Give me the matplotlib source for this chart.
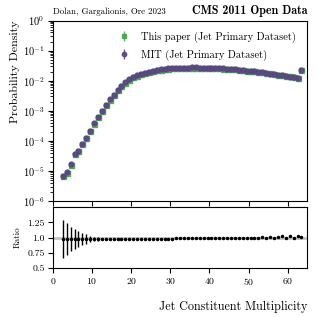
import numpy as np
import matplotlib
matplotlib.use('Agg')
from matplotlib import pyplot as plt
from matplotlib.ticker import LogLocator, NullFormatter, FixedLocator, FixedFormatter

plt.rcParams['font.family'] = 'cmr10'
plt.rcParams['mathtext.fontset'] = 'cm'
plt.rcParams['axes.formatter.use_mathtext'] = True
plt.rcParams['axes.unicode_minus'] = False

# bin centres of the jet constituent multiplicity (last bin = overflow)
mult = np.arange(2.5, 64.0, 1.0)

# MIT (Jet Primary Dataset) probability density
mit = [6.76e-6, 8.91e-6, 1.66e-5, 3.72e-5, 4.57e-5, 7.94e-5, 1.23e-4, 2.14e-4,
       3.80e-4, 6.17e-4, 1.02e-3, 1.58e-3, 2.40e-3, 3.47e-3, 4.90e-3, 6.76e-3,
       8.71e-3, 1.10e-2, 1.32e-2, 1.51e-2, 1.70e-2, 1.86e-2, 2.00e-2, 2.14e-2,
       2.26e-2, 2.37e-2, 2.47e-2, 2.55e-2, 2.61e-2, 2.66e-2, 2.70e-2, 2.72e-2,
       2.74e-2, 2.75e-2, 2.75e-2, 2.74e-2, 2.72e-2, 2.69e-2, 2.66e-2, 2.62e-2,
       2.58e-2, 2.54e-2, 2.48e-2, 2.43e-2, 2.37e-2, 2.30e-2, 2.23e-2, 2.16e-2,
       2.09e-2, 2.02e-2, 1.95e-2, 1.87e-2, 1.79e-2, 1.72e-2, 1.64e-2, 1.57e-2,
       1.49e-2, 1.42e-2, 1.35e-2, 1.29e-2, 1.22e-2, 2.26e-2]

# ratio this paper / MIT and its uncertainty
ratio = [0.975, 0.975, 0.975, 0.975, 0.975, 0.975, 0.975, 0.975, 0.975, 0.975,
         0.975, 0.975, 0.975, 0.975, 0.975, 0.975, 0.975, 0.975, 0.978, 0.978,
         0.98, 0.98, 0.98, 0.98, 0.98, 0.98, 0.98, 0.982, 0.982, 0.984,
         0.984, 0.985, 0.986, 0.987, 0.988, 0.989, 0.99, 0.99, 0.991, 0.992,
         0.993, 0.994, 0.995, 0.996, 0.997, 0.998, 0.999, 1.0, 1.0, 1.0,
         1.0, 1.005, 1.0, 1.01, 1.0, 1.005, 1.02, 1.0, 1.02, 1.0, 1.02, 1.005]
ratio_err = [0.31, 0.27, 0.20, 0.16, 0.13, 0.10, 0.075, 0.055, 0.04, 0.03,
             0.022, 0.017, 0.013, 0.01, 0.008, 0.006] + [0.004] * 46

# relative uncertainty on the densities
rel_err = [0.15, 0.13, 0.1, 0.08, 0.07, 0.05, 0.04, 0.03, 0.02, 0.015] + [0.005] * 52

mit = np.array(mit)
ratio = np.array(ratio)
ours = mit * ratio

green = '#45a04a'
purple = '#584583'

fig = plt.figure(figsize=(3.16, 3.17), dpi=100)
ax1 = fig.add_axes([0.1677, 0.3659, 0.8048, 0.5694])
ax2 = fig.add_axes([0.1677, 0.1555, 0.8048, 0.1905])

ax1.errorbar(mult, ours, yerr=ours * np.array(rel_err), fmt='s', color=green,
             ms=3.6, elinewidth=1, alpha=0.85, label='This paper (Jet Primary Dataset)')
ax1.errorbar(mult, mit, yerr=mit * np.array(rel_err), fmt='o', color=purple,
             ms=3.5, elinewidth=1, alpha=0.9, label='MIT (Jet Primary Dataset)')
ax1.set_yscale('log')
ax1.set_ylim(1e-6, 1)
ax1.set_xlim(0, 65)
ax1.yaxis.set_major_locator(LogLocator(base=10, numticks=10))
ax1.yaxis.set_minor_locator(LogLocator(base=10, subs=np.arange(2, 10), numticks=20))
ax1.yaxis.set_minor_formatter(NullFormatter())
ax1.xaxis.set_major_locator(FixedLocator([0, 10, 20, 30, 40, 50, 60]))
ax1.tick_params(axis='x', labelbottom=False)
ax1.tick_params(which='major', direction='out', length=3.5, width=0.8, labelsize=7.5, pad=2.5)
ax1.tick_params(which='minor', direction='out', length=2, width=0.6)
ax1.set_ylabel('Probability Density', fontsize=8.6, labelpad=2, loc='top')
ax1.legend(loc='upper right', frameon=False, fontsize=7.5, handlelength=1.0,
           handletextpad=1.2, borderaxespad=0.65, labelspacing=0.65, markerscale=0.9)

ax1.text(0.0, 1.025, 'Dolan, Gargalionis, Ore 2023', transform=ax1.transAxes,
         fontsize=6.4, ha='left', va='bottom')
ax1.text(1.0, 1.02, 'CMS 2011 Open Data', transform=ax1.transAxes,
         fontsize=8.6, ha='right', va='bottom', family='cmb10')

ax2.axhline(1.0, color='#c4c4c4', lw=2, zorder=0)
ax2.errorbar(mult, ratio, yerr=ratio_err, fmt='o', color='black', ms=1.5,
             elinewidth=1)
ax2.set_xlim(0, 65)
ax2.set_ylim(0.5, 1.5)
ax2.xaxis.set_major_locator(FixedLocator([0, 10, 20, 30, 40, 50, 60]))
ax2.yaxis.set_major_locator(FixedLocator([0.5, 0.75, 1.0, 1.25]))
ax2.yaxis.set_major_formatter(FixedFormatter(['0.5', '0.75', '1.0', '1.25']))
ax2.tick_params(which='major', direction='out', length=3.5, width=0.8, pad=2.5)
ax2.tick_params(axis='x', labelsize=7)
ax2.tick_params(axis='y', labelsize=7)
ax2.set_ylabel('Ratio', fontsize=6.5, labelpad=4)
ax2.set_xlabel('Jet Constituent Multiplicity', fontsize=8.7, loc='right', labelpad=10)

fig.savefig('out.png', dpi=100)
